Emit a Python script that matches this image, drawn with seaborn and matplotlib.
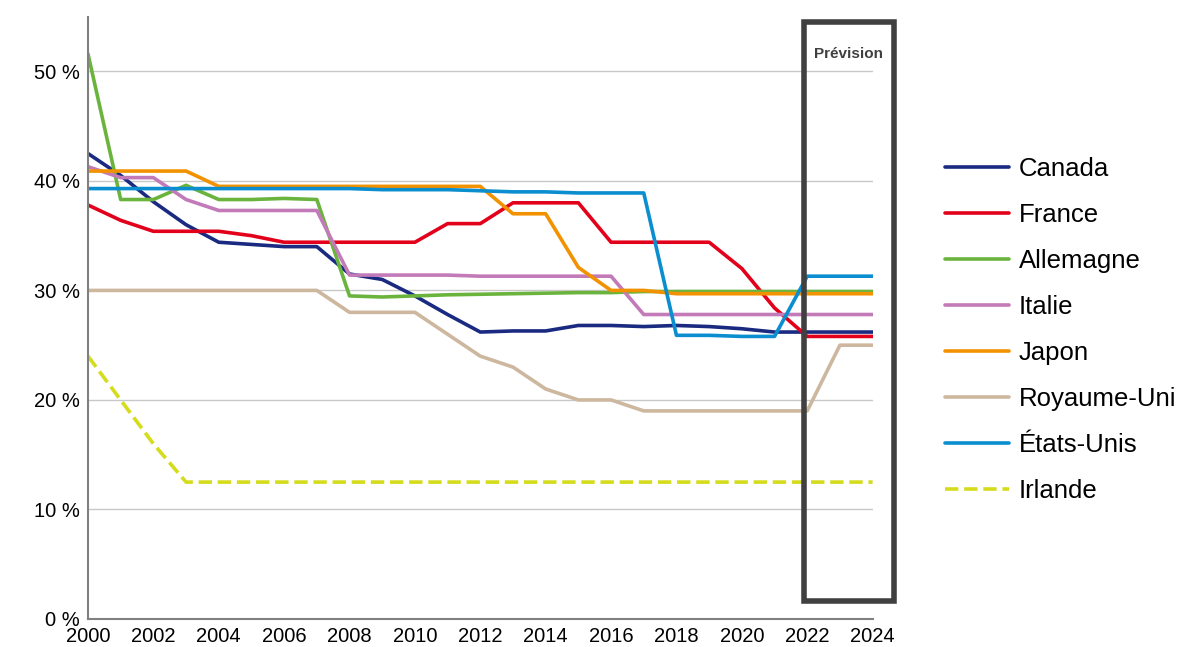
import numpy as np
import pandas as pd
import seaborn as sns
import matplotlib.pyplot as plt
from matplotlib.patches import Rectangle

years = list(range(2000, 2025))

canada = [42.5, 40.5, 38.1, 36.0, 34.4, 34.2, 34.0, 34.0, 31.5, 31.0, 29.5, 27.8, 26.2,
          26.3, 26.3, 26.8, 26.8, 26.7, 26.8, 26.7, 26.5, 26.2, 26.2, 26.2, 26.2]
france = [37.8, 36.4, 35.4, 35.4, 35.4, 35.0, 34.4, 34.4, 34.4, 34.4, 34.4, 36.1, 36.1,
          38.0, 38.0, 38.0, 34.4, 34.4, 34.4, 34.4, 32.0, 28.4, 25.8, 25.8, 25.8]
allemagne = [51.6, 38.3, 38.3, 39.6, 38.3, 38.3, 38.4, 38.3, 29.5, 29.4, 29.5, 29.6, 29.65,
             29.7, 29.75, 29.8, 29.8, 29.9, 29.9, 29.9, 29.9, 29.9, 29.9, 29.9, 29.9]
italie = [41.3, 40.3, 40.3, 38.3, 37.3, 37.3, 37.3, 37.3, 31.4, 31.4, 31.4, 31.4, 31.3,
          31.3, 31.3, 31.3, 31.3, 27.8, 27.8, 27.8, 27.8, 27.8, 27.8, 27.8, 27.8]
japon = [40.9, 40.9, 40.9, 40.9, 39.5, 39.5, 39.5, 39.5, 39.5, 39.5, 39.5, 39.5, 39.5,
         37.0, 37.0, 32.1, 30.0, 30.0, 29.7, 29.7, 29.7, 29.7, 29.7, 29.7, 29.7]
royaume_uni = [30, 30, 30, 30, 30, 30, 30, 30, 28, 28, 28, 26, 24,
               23, 21, 20, 20, 19, 19, 19, 19, 19, 19, 25, 25]
etats_unis = [39.3, 39.3, 39.3, 39.3, 39.3, 39.3, 39.3, 39.3, 39.3, 39.2, 39.2, 39.2, 39.1,
              39.0, 39.0, 38.9, 38.9, 38.9, 25.9, 25.9, 25.8, 25.8, 31.3, 31.3, 31.3]
irlande = [24, 20, 16, 12.5, 12.5, 12.5, 12.5, 12.5, 12.5, 12.5, 12.5, 12.5, 12.5,
           12.5, 12.5, 12.5, 12.5, 12.5, 12.5, 12.5, 12.5, 12.5, 12.5, 12.5, 12.5]

series = [
    ("Canada", canada, "#1a2a80", "-"),
    ("France", france, "#e3001b", "-"),
    ("Allemagne", allemagne, "#6ab43e", "-"),
    ("Italie", italie, "#c27bb8", "-"),
    ("Japon", japon, "#f39200", "-"),
    ("Royaume-Uni", royaume_uni, "#cdb79e", "-"),
    ("États-Unis", etats_unis, "#0a8ed0", "-"),
    ("Irlande", irlande, "#d4dc1c", "--"),
]

sns.set_style("white")
plt.rcParams['font.family'] = ['Liberation Sans', 'DejaVu Sans']
plt.rcParams['text.color'] = 'black'
plt.rcParams['xtick.color'] = '#808080'
plt.rcParams['xtick.labelcolor'] = 'black'
plt.rcParams['ytick.labelcolor'] = 'black'

fig = plt.figure(figsize=(11.84, 6.47), dpi=100)
ax = fig.add_axes([0.0743, 0.0433, 0.6627, 0.931])

for name, vals, color, ls in series:
    sns.lineplot(x=years, y=vals, ax=ax, color=color, linestyle=ls,
                 linewidth=2.6, label=name)

ax.set_xlim(2000, 2024)
ax.set_ylim(0, 55)
ax.set_xticks(range(2000, 2025, 2))
ax.set_yticks(range(0, 51, 10))
ax.set_yticklabels([f"{v} %" for v in range(0, 51, 10)])
ax.tick_params(axis='x', labelsize=14.5, length=5, width=1, color='#808080',
               direction='out', pad=1)
ax.tick_params(axis='y', labelsize=14.5, length=0, pad=6)
ax.grid(axis='y', color='#c8c8c8', linewidth=1)
ax.set_axisbelow(True)
for side in ['top', 'right']:
    ax.spines[side].set_visible(False)
for side in ['left', 'bottom']:
    ax.spines[side].set_color('#808080')
    ax.spines[side].set_linewidth(1.5)

# forecast box
box = Rectangle((2021.9, 1.65), 2.75, 52.9, fill=False, edgecolor='#404040',
                linewidth=4, clip_on=False, zorder=5)
ax.add_patch(box)
ax.text(2023.27, 51.6, "Prévision", ha='center', va='center', fontsize=11,
        fontweight='bold', color='#404040')

ax.legend(loc='center left', bbox_to_anchor=(1.0917, 0.48), frameon=False,
          fontsize=18.5, handlelength=2.5, labelspacing=0.86, handletextpad=0.4,
          borderpad=0, borderaxespad=0)

fig.savefig("out.png", dpi=100)
